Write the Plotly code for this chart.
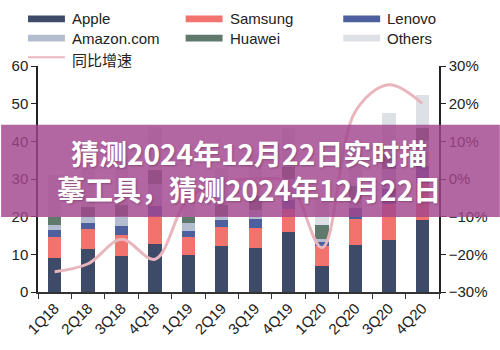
import plotly.graph_objects as go

quarters = ["1Q18", "2Q18", "3Q18", "4Q18", "1Q19", "2Q19", "3Q19", "4Q19", "1Q20", "2Q20", "3Q20", "4Q20"]
apple   = [9.0, 11.5, 9.6, 12.8, 9.9, 12.2, 11.7, 16.0, 6.8, 12.4, 13.9, 19.0]
samsung = [5.5, 5.2, 5.5, 7.5, 4.8, 5.1, 5.3, 6.0, 5.4, 7.0, 9.4, 9.9]
lenovo  = [1.9, 1.7, 2.3, 2.5, 1.5, 1.8, 2.4, 2.5, 1.2, 2.8, 4.0, 4.6]
amazon  = [1.3, 1.4, 2.8, 6.0, 2.1, 1.0, 2.5, 5.5, 0.8, 2.5, 5.4, 6.5]
huawei  = [2.1, 2.7, 3.0, 3.5, 1.7, 3.0, 3.5, 3.2, 3.6, 3.4, 4.0, 3.6]
others  = [11.2, 10.5, 13.2, 11.5, 10.0, 9.8, 11.1, 10.3, 6.8, 10.5, 10.9, 8.6]
yoy     = [-24.6, -22.5, -16.0, -21.3, -5.0, -1.0, 0.0, -1.0, -18.2, 18.0, 25.0, 20.0]

series = [
    ("Apple", apple, "#3d4b69"),
    ("Samsung", samsung, "#f2736e"),
    ("Lenovo", lenovo, "#4d5f9c"),
    ("Amazon.com", amazon, "#b4bdd0"),
    ("Huawei", huawei, "#5f7a6c"),
    ("Others", others, "#dde0e4"),
]
line_name = "同比增速"
line_color = "#e9b6be"
banner_text = "<b>猜测2024年12月22日实时描<br>摹工具，猜测2024年12月22日</b>"

fig = go.Figure()
for name, vals, col in series:
    fig.add_trace(go.Bar(x=quarters, y=vals, name=name, marker=dict(color=col, line=dict(width=0)),
                         showlegend=False))
fig.add_trace(go.Scatter(x=quarters, y=yoy, name=line_name, mode="lines", yaxis="y2",
                         line=dict(color=line_color, width=3, shape="spline", smoothing=1.0),
                         showlegend=False))

L, R, T, B = 37, 61, 66, 49
W, H = 500, 350
pw, ph = W - L - R, H - T - B
def px(x):
    return (x - L) / pw
def py(y):
    return (H - B - y) / ph

font = "Liberation Sans, Arial, Noto Sans CJK SC, sans-serif"
shapes = []
annotations = []
# manual legend
leg = [(series[0], 27, 17), (series[1], 185, 17), (series[2], 343, 17),
       (series[3], 27, 37), (series[4], 185, 37), (series[5], 343, 37)]
for (name, _, col), x0, yc in leg:
    shapes.append(dict(type="rect", xref="paper", yref="paper", x0=px(x0), x1=px(x0 + 37),
                       y0=py(yc + 3.5), y1=py(yc - 3.5), fillcolor=col, line=dict(width=0)))
    annotations.append(dict(xref="paper", yref="paper", x=px(x0 + 42), y=py(yc), text=name,
                            showarrow=False, xanchor="left", yanchor="middle",
                            font=dict(family=font, size=15, color="#222")))
shapes.append(dict(type="line", xref="paper", yref="paper", x0=px(27), x1=px(64), y0=py(57), y1=py(57),
                   line=dict(color=line_color, width=2)))
annotations.append(dict(xref="paper", yref="paper", x=px(69), y=py(59), text=line_name,
                        showarrow=False, xanchor="left", yanchor="middle",
                        font=dict(family="Noto Sans CJK SC, sans-serif", size=15, color="#222")))

# overlay banner
shapes.append(dict(type="rect", xref="paper", yref="paper", x0=px(0), x1=px(500), y0=py(223), y1=py(127),
                   fillcolor="rgba(162,70,142,0.82)", line=dict(width=0), layer="above"))
annotations.append(dict(xref="paper", yref="paper", x=px(249), y=py(175.5), text=banner_text,
                        showarrow=False, xanchor="center", yanchor="middle", align="center",
                        font=dict(family="Noto Sans CJK SC, sans-serif", size=28, color="white",
                                  shadow="1px 1px 2px rgba(60,20,50,0.35)")))

fig.update_layout(
    barmode="stack",
    bargap=0.6,
    width=W, height=H,
    margin=dict(l=L, r=R, t=T, b=B),
    paper_bgcolor="white", plot_bgcolor="white",
    font=dict(family=font, size=15, color="#222"),
    shapes=shapes, annotations=annotations,
    xaxis=dict(showline=True, linecolor="#333", linewidth=1.5, ticks="outside", ticklen=5,
               tickcolor="#333", tickson="boundaries", tickangle=-45, showgrid=False,
               tickfont=dict(size=15, color="#222")),
    yaxis=dict(range=[0, 60], dtick=10, showline=True, linecolor="#222", linewidth=1.5,
               ticks="outside", ticklen=5, tickcolor="#222", showgrid=False, zeroline=False,
               tickfont=dict(size=15, color="#222")),
    yaxis2=dict(range=[-30, 30], dtick=10, overlaying="y", side="right", ticksuffix="%",
                showline=True, linecolor="#222", linewidth=1.5, ticks="outside", ticklen=5,
                tickcolor="#222", showgrid=False, zeroline=False,
                tickfont=dict(size=15, color="#222")),
)

fig.write_html("out.html")
